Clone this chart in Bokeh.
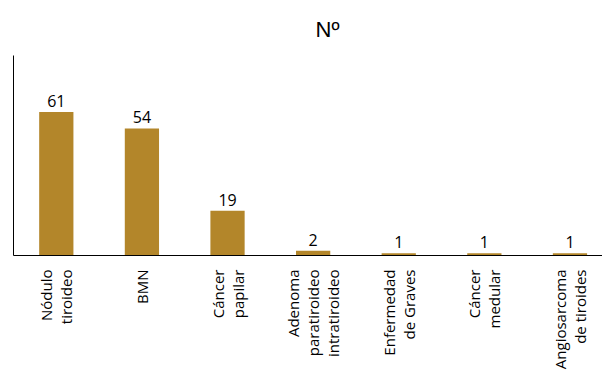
from bokeh.plotting import figure
from bokeh.models import ColumnDataSource, Range1d, FixedTicker
from bokeh.core.properties import value
from bokeh.embed import file_html
from bokeh.resources import INLINE
import math

categories = ["Nódulo\ntiroideo", "BMN", "Cáncer\npapilar",
              "Adenoma\nparatiroideo\nintratiroideo", "Enfermedad\nde Graves",
              "Cáncer\nmedular", "Angiosarcoma\nde tiroides"]
values = [61, 54, 19, 2, 1, 1, 1]
title_text = "Nº"

xs = list(range(len(categories)))
src = ColumnDataSource(dict(x=xs, y=values, lab=[str(v) for v in values]))

p = figure(width=602, height=375, output_backend="svg", toolbar_location=None,
           x_range=Range1d(-0.5, 6.38), y_range=Range1d(0, 85),
           min_border_left=13, min_border_right=0, min_border_top=53, min_border_bottom=120)
p.title.text = title_text
p.title.align = "left"
p.title.offset = 302
p.title.text_font = "Liberation Sans"
p.title.text_font_size = "22px"
p.title.text_font_style = "normal"
p.title.text_color = "#000000"
p.title.standoff = 28

p.vbar(x="x", top="y", width=0.4, bottom=0, source=src, color="#B3862A", line_color=None)
p.text(x="x", y="y", text="lab", source=src, text_align="center", text_baseline="bottom",
       y_offset=-5, text_font=value("Open Sans"), text_font_size="16px", text_color="#000000")

p.xgrid.visible = False
p.ygrid.visible = False
p.outline_line_color = None

p.xaxis.ticker = FixedTicker(ticks=xs)
p.xaxis.major_label_overrides = {i: c for i, c in zip(xs, categories)}
p.xaxis.major_label_orientation = math.pi / 2
p.xaxis.major_tick_line_color = None
p.xaxis.minor_tick_line_color = None
p.xaxis.axis_line_color = "#000000"
p.xaxis.major_label_text_font = "Open Sans"
p.xaxis.major_label_text_font_size = "15px"
p.xaxis.major_label_text_line_height = 1.0
p.xaxis.major_label_text_color = "#000000"
p.xaxis.major_label_standoff = 8

p.yaxis.major_tick_line_color = None
p.yaxis.minor_tick_line_color = None
p.yaxis.major_label_text_font_size = "0px"
p.yaxis.axis_line_color = "#000000"
p.yaxis.ticker = FixedTicker(ticks=[])

open("out.html", "w").write(file_html(p, INLINE))
